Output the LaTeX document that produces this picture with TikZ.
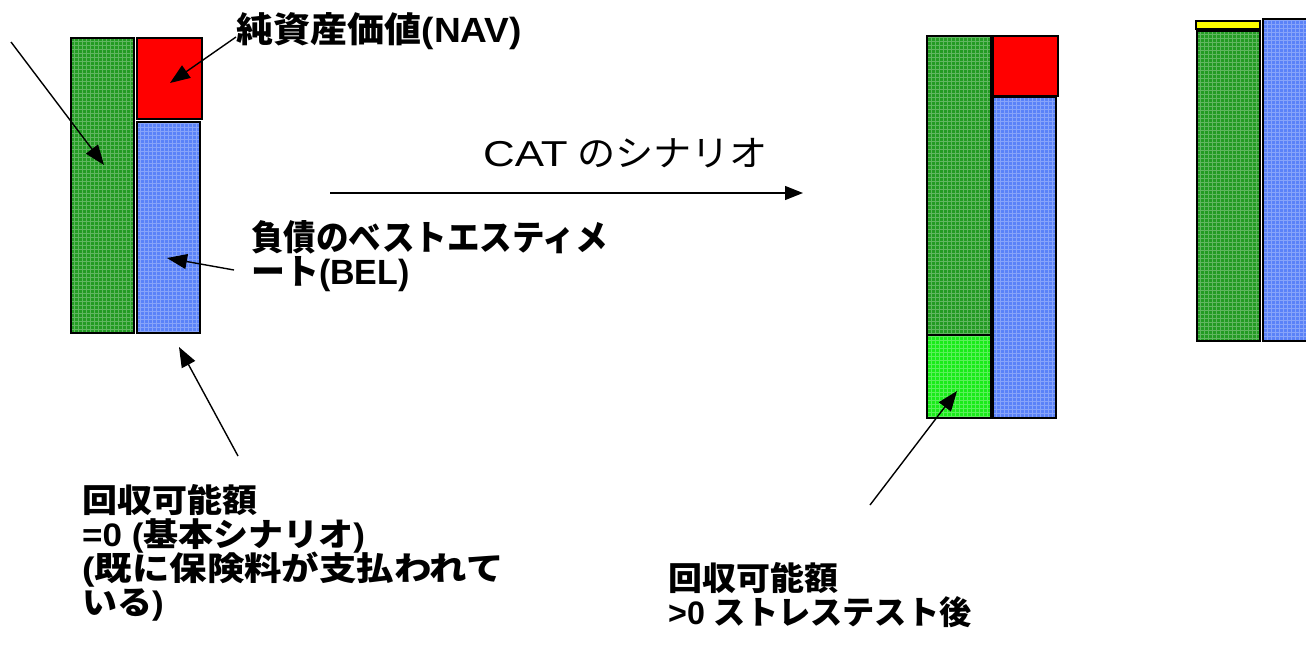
\documentclass[tikz,border=0pt]{standalone}
\usepackage{fontspec}
\usepackage{graphicx}
\setmainfont{Liberation Sans}
\newfontfamily\jp{Noto Sans CJK JP}
\newfontfamily\latw{Liberation Sans}[FakeStretch=1.15]
\usetikzlibrary{arrows.meta}
\definecolor{gA}{RGB}{35,155,35}
\definecolor{gB}{RGB}{25,235,25}
\definecolor{bA}{RGB}{90,130,248}
\definecolor{rA}{RGB}{255,0,0}
\definecolor{yA}{RGB}{255,255,0}
\newcommand{\jb}[1]{{\jp\bfseries #1}}
\newcommand{\sx}[3][1]{\scalebox{#2}[#1]{#3}}
\tikzset{
  bar/.style={draw=black, line width=1.4pt, inner sep=0pt, outer sep=0pt, anchor=north west,
    path picture={\draw[white, opacity=0.28, line width=0.5pt, step=4pt]
      (path picture bounding box.south west) grid (path picture bounding box.north east);}},
  plain/.style={draw=black, line width=1.4pt, inner sep=0pt, outer sep=0pt, anchor=north west},
  lbl/.style={anchor=base west, inner sep=0pt, text height=25pt, text depth=7pt,
    font=\fontsize{35}{35}\selectfont\bfseries},
  cat/.style={anchor=base west, inner sep=0pt, font=\fontsize{36}{36}\selectfont},
  arr/.style={draw=black, line width=1.4pt, -{Triangle[length=20pt,width=15pt]}},
}
\begin{document}
\begin{tikzpicture}[x=1pt,y=-1pt]
\useasboundingbox (0,0) rectangle (1306,654);
\clip (0,0) rectangle (1306,654);
% left chart
\node[bar, fill=gA, minimum width=63, minimum height=295] (g1) at (71,38) {};
\node[plain, fill=rA, minimum width=65, minimum height=81] (r1) at (137,38) {};
\node[bar, fill=bA, minimum width=63, minimum height=211] (b1) at (137,122) {};
% middle chart
\node[bar, fill=gA, minimum width=64, minimum height=299] (g2) at (927,36) {};
\node[bar, fill=gB, minimum width=64, minimum height=83] (lg2) at (927,335) {};
\node[plain, fill=rA, minimum width=65, minimum height=60] (r2) at (993,36) {};
\node[bar, fill=bA, minimum width=63, minimum height=321] (b2) at (993,97) {};
% right chart
\node[plain, fill=yA, minimum width=64, minimum height=8] (y3) at (1196,21) {};
\node[bar, fill=gA, minimum width=63, minimum height=310] (g3) at (1197,31) {};
\node[bar, fill=bA, minimum width=80, minimum height=322] (b3) at (1263,19) {};
% labels
\node[lbl] (nav) at (236,42) {\sx{1.06}{\jb{純資産価値}(NAV)}};
\node[lbl] (bel1) at (251,250) {\sx{0.93}{\jb{負債のベストエスティメ}}};
\node[lbl] (bel2) at (251,284) {\sx{0.97}{\jb{ート}(BEL)}};
\node[lbl] (rl1) at (82,512) {\sx[0.93]{1.0}{\jb{回収可能額}}};
\node[lbl] (rl2) at (82,546) {\sx[0.93]{1.0}{=0 (\jb{基本シナリオ})}};
\node[lbl] (rl3) at (82,580) {\sx[0.93]{1.07}{(\jb{既に保険料が支払われて}}};
\node[lbl] (rl4) at (82,614) {\sx[0.93]{1.0}{\jb{いる})}};
\node[lbl] (rr1) at (668,590) {\sx[0.93]{0.97}{\jb{回収可能額}}};
\node[lbl] (rr2) at (668,624) {\sx[0.93]{0.92}{>0 \jb{ストレステスト後}}};
\node[cat] (catl) at (483,166) {\sx{1.06}{{\latw CAT}\hspace{9pt}{\jp のシナリオ}}};
% arrow ends
\coordinate (a1s) at (11,42);   \coordinate (a1e) at (104,165);
\coordinate (a2s) at (236,37);  \coordinate (a2e) at (170,83);
\coordinate (a3s) at (234,270); \coordinate (a3e) at (167,258);
\coordinate (a4s) at (238,456); \coordinate (a4e) at (179,347);
\coordinate (a5s) at (870,505); \coordinate (a5e) at (957,391);
\coordinate (c1) at (330,193);  \coordinate (c2) at (803,193);
\draw[arr] (a1s) -- (a1e);
\draw[arr] (a2s) -- (a2e);
\draw[arr] (a3s) -- (a3e);
\draw[arr] (a4s) -- (a4e);
\draw[arr] (a5s) -- (a5e);
\draw[draw=black, line width=1.4pt, -{Triangle[length=18pt,width=14pt]}] (c1) -- (c2);
\end{tikzpicture}
\end{document}
